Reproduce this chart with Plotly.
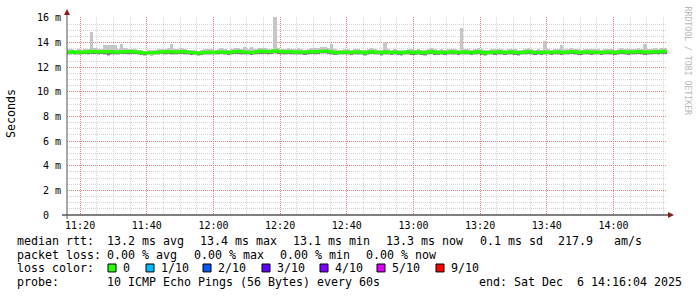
import plotly.graph_objects as go
import pandas as pd

# ---------------- data (ms), one value per minute ----------------
median_ms = [
    13.22,13.25,13.20,13.24,13.22,13.26,13.23,13.30,13.27,13.24,13.26,13.28,13.25,13.27,13.24,13.22,13.26,13.28,13.25,13.27,
    13.26,13.24,13.18,13.15,13.17,13.16,13.19,13.22,13.25,13.24,13.27,13.25,13.23,13.26,13.28,13.25,13.22,13.20,13.17,13.15,
    13.18,13.22,13.24,13.21,13.19,13.23,13.26,13.22,13.20,13.24,13.27,13.30,13.26,13.24,13.22,13.19,13.23,13.27,13.32,13.28,
    13.25,13.27,13.34,13.30,13.26,13.24,13.28,13.25,13.22,13.26,13.23,13.21,13.25,13.28,13.24,13.27,13.30,13.32,13.28,13.25,
    13.20,13.18,13.21,13.24,13.22,13.19,13.23,13.25,13.21,13.18,13.24,13.27,13.22,13.20,13.17,13.25,13.22,13.19,13.23,13.20,
    13.16,13.21,13.26,13.22,13.18,13.25,13.20,13.17,13.23,13.27,13.21,13.18,13.24,13.20,13.22,13.26,13.23,13.19,13.21,13.25,
    13.22,13.18,13.24,13.27,13.21,13.16,13.20,13.24,13.22,13.26,13.23,13.19,13.22,13.25,13.21,13.17,13.20,13.24,13.27,13.23,
    13.20,13.22,13.18,13.24,13.21,13.19,13.23,13.26,13.22,13.20,13.24,13.27,13.25,13.22,13.19,13.23,13.26,13.21,13.24,13.22,
    13.19,13.22,13.25,13.23,13.20,13.24,13.27,13.25,13.22,13.26,13.24,13.28,13.25,13.22,13.26,13.24,13.27,13.23,13.28,13.30,
]
max_ms = [
    13.45,13.50,13.42,13.48,13.44,13.52,13.47,14.85,13.55,13.48,13.52,13.82,13.84,13.82,13.80,13.50,13.85,13.58,13.48,13.46,
    13.50,13.44,13.40,13.36,13.40,13.38,13.42,13.46,13.52,13.48,13.54,13.85,13.46,13.50,13.56,13.48,13.44,13.40,13.38,13.36,
    13.40,13.48,13.52,13.46,13.42,13.48,13.55,13.46,13.44,13.50,13.56,13.58,13.52,13.62,13.46,13.62,13.48,13.55,13.58,13.56,
    13.48,13.52,16.20,13.60,13.52,13.48,13.56,13.50,13.46,13.54,13.48,13.44,13.52,13.56,13.60,13.54,13.62,13.66,13.60,13.85,
    13.46,13.40,13.44,13.48,13.46,13.42,13.48,13.52,13.44,13.40,13.48,13.54,13.46,13.44,13.40,14.08,13.48,13.42,13.48,13.44,
    13.40,13.44,13.52,13.46,13.42,13.52,13.44,13.40,13.48,13.55,13.46,13.42,13.50,13.44,13.46,13.52,13.48,13.42,15.20,13.52,
    13.46,13.42,13.48,13.55,13.46,13.40,13.44,13.50,13.46,13.52,13.48,13.44,13.46,13.52,13.46,13.40,13.44,13.50,13.55,13.48,
    13.44,13.46,13.42,14.15,13.46,13.44,13.48,13.52,13.80,13.46,13.50,13.55,13.52,13.46,13.44,13.48,13.52,13.46,13.50,13.46,
    13.42,13.46,13.52,13.48,13.44,13.50,13.55,13.52,13.46,13.52,13.50,13.56,13.52,13.85,13.52,13.50,13.55,13.48,13.55,13.56,
]
min_ms = [
    13.02,13.04,12.98,13.02,13.00,13.04,13.02,13.06,13.04,13.00,13.04,12.96,12.94,12.98,13.02,12.99,13.04,13.06,13.02,13.04,
    13.04,13.02,12.96,12.94,12.96,12.95,12.98,13.00,13.04,13.02,13.04,13.02,13.00,13.04,13.06,13.02,12.99,12.98,12.96,12.94,
    12.96,13.00,13.02,12.99,12.96,13.02,13.04,13.00,12.98,13.02,13.04,13.06,13.02,13.00,12.99,12.96,13.00,13.04,13.08,13.04,
    13.02,13.04,13.08,13.06,13.02,13.00,13.04,13.02,12.98,13.02,13.00,12.98,13.02,13.04,13.00,13.04,13.06,13.08,13.04,13.02,
    12.98,12.96,12.98,13.00,12.99,12.96,13.00,13.02,12.98,12.94,13.00,13.04,12.98,12.96,12.94,13.02,12.99,12.96,13.00,12.98,
    12.94,12.98,13.02,12.99,12.96,13.02,12.98,12.94,13.00,13.04,12.98,12.96,13.00,12.98,12.99,13.02,13.00,12.96,12.98,13.02,
    12.99,12.96,13.00,13.04,12.98,12.94,12.98,13.00,12.99,13.02,13.00,12.96,12.99,13.02,12.98,12.94,12.98,13.00,13.04,13.00,
    12.98,12.99,12.96,13.00,12.98,12.96,13.00,13.02,12.99,12.98,13.00,13.04,13.02,12.99,12.96,13.00,13.02,12.98,13.00,12.99,
    12.96,12.99,13.02,13.00,12.98,13.00,13.04,13.02,12.99,13.02,13.00,13.04,13.02,12.99,13.02,13.00,13.04,13.00,13.04,13.06,
]
dark_lo_ms = [
    13.15,13.06,13.12,13.15,13.05,13.15,13.10,13.08,13.15,13.06,13.14,13.04,13.02,13.05,13.12,13.15,13.08,13.15,13.10,13.15,
    13.12,13.15,13.04,13.02,13.10,13.08,13.15,13.12,13.06,13.15,13.10,13.15,13.06,13.15,13.12,13.08,13.15,13.06,13.10,13.03,
    13.06,13.15,13.10,13.08,13.15,13.06,13.15,13.12,13.05,13.15,13.10,13.14,13.08,13.06,13.15,13.04,13.12,13.15,13.10,13.15,
    13.10,13.15,13.12,13.08,13.15,13.06,13.15,13.10,13.04,13.15,13.08,13.06,13.15,13.10,13.05,13.15,13.12,13.15,13.08,13.06,
    13.05,13.08,13.15,13.06,13.12,13.04,13.15,13.08,13.10,13.02,13.15,13.10,13.05,13.12,13.03,13.15,13.08,13.06,13.15,13.05,
    13.03,13.12,13.15,13.06,13.04,13.15,13.06,13.02,13.12,13.15,13.06,13.05,13.15,13.06,13.10,13.15,13.08,13.04,13.12,13.15,
    13.08,13.04,13.15,13.12,13.06,13.02,13.10,13.15,13.06,13.15,13.10,13.04,13.12,13.15,13.06,13.02,13.08,13.15,13.12,13.06,
    13.06,13.10,13.04,13.15,13.08,13.05,13.12,13.15,13.06,13.08,13.15,13.12,13.15,13.06,13.04,13.12,13.15,13.06,13.10,13.08,
    13.04,13.10,13.15,13.08,13.06,13.15,13.12,13.15,13.06,13.15,13.10,13.15,13.12,13.06,13.15,13.08,13.15,13.06,13.12,13.15,
]
start_time = "2025-12-06 11:16:00"
range_start = "2025-12-06 11:16:04"
range_end = "2025-12-06 14:16:04"

y_tickvals = [0, 2, 4, 6, 8, 10, 12, 14, 16]
y_ticktext = ["0\u00a0\u00a0", "2 m", "4 m", "6 m", "8 m", "10 m", "12 m", "14 m", "16 m"]

legend_rows = [
    [("median rtt:", 16), ("13.2 ms avg", 106), ("13.4 ms max", 199), ("13.1 ms min", 292),
     ("13.3 ms now", 385), ("0.1 ms sd", 479), ("217.9", 557), ("am/s", 613)],
    [("packet loss:", 16), ("0.00 % avg", 106), ("0.00 % max", 192.5), ("0.00 % min", 278.5),
     ("0.00 % now", 364.5)],
    [("loss color:", 16)],
    [("probe:", 16), ("10 ICMP Echo Pings (56 Bytes) every 60s", 106),
     ("end: Sat Dec  6 14:16:04 2025", 477.5)],
]
loss_labels = ["0", "1/10", "2/10", "3/10", "4/10", "5/10", "9/10"]
loss_colors = ["#26ff00", "#00b8ff", "#0059ff", "#5e00ff", "#7e00ff", "#dd00ff", "#ff0000"]
loss_box_x = [108, 146, 203, 262, 320, 377, 436]

# ---------------- geometry ----------------
W, H = 697, 297
L, R, T, B = 67, 667, 15, 215
MONO = "DejaVu Sans Mono"
FS = 11.63


def px(x):
    return (x - L) / (R - L)


def py(y):
    return (B - y) / (B - T)


times = pd.date_range(start_time, periods=len(median_ms), freq="60s")
centers = times + pd.Timedelta(seconds=30)

fig = go.Figure()
fig.add_trace(go.Bar(
    x=centers, y=[mx - mn for mx, mn in zip(max_ms, min_ms)], base=min_ms,
    width=60000, marker=dict(color="#c6c6c6", line=dict(width=0)),
    hoverinfo="skip", showlegend=False))
fig.add_trace(go.Bar(
    x=centers, y=[md - dl for md, dl in zip(median_ms, dark_lo_ms)], base=dark_lo_ms,
    width=60000, marker=dict(color="#7c7c7c", line=dict(width=0)),
    hoverinfo="skip", showlegend=False))
line_x = list(times) + [times[-1] + pd.Timedelta(seconds=60)]
line_y = median_ms + [median_ms[-1]]
fig.add_trace(go.Scatter(
    x=line_x, y=line_y, mode="lines", line=dict(color=loss_colors[0], width=3, shape="hv"),
    hoverinfo="skip", showlegend=False))

major = "#e88080"
minor = "#d4d4d4"
fig.update_layout(
    width=W, height=H, margin=dict(l=L, r=W - R, t=T, b=H - B),
    paper_bgcolor="white", plot_bgcolor="white",
    bargap=0, barmode="overlay", showlegend=False,
    font=dict(family=MONO, color="black"),
    xaxis=dict(
        type="date", range=[range_start, range_end],
        tick0="2025-12-06 11:20:00", dtick=20 * 60 * 1000, tickformat="%H:%M",
        showgrid=True, gridcolor=major, griddash="1px,1px", gridwidth=1,
        minor=dict(dtick=5 * 60 * 1000, showgrid=True, gridcolor=minor, griddash="1px,1px"),
        ticks="", showline=False, zeroline=False, ticklabelstandoff=3,
        tickfont=dict(family=MONO, size=10, color="black"),
    ),
    yaxis=dict(
        range=[0, (B - T) / ((B - 16) / 16)], tickvals=y_tickvals, ticktext=y_ticktext,
        showgrid=True, gridcolor=major, griddash="1px,1px", gridwidth=1,
        minor=dict(dtick=0.5, showgrid=True, gridcolor=minor, griddash="1px,1px"),
        ticks="", showline=False, zeroline=False, ticklabelstandoff=5,
        tickfont=dict(family=MONO, size=10, color="black"),
    ),
)

shapes = []
# axes
shapes.append(dict(type="line", xref="paper", yref="paper", x0=px(62), x1=px(669), y0=0, y1=0,
                   line=dict(color="black", width=1)))
shapes.append(dict(type="line", xref="paper", yref="paper", x0=0, x1=0, y0=py(219), y1=py(12),
                   line=dict(color="#555555", width=1)))
# arrows
shapes.append(dict(type="path", xref="paper", yref="paper",
                   path=f"M {px(668)} {py(212)} L {px(674)} {py(215)} L {px(668)} {py(218)} Z",
                   fillcolor="#8b1a1a", line=dict(width=0)))
shapes.append(dict(type="path", xref="paper", yref="paper",
                   path=f"M {px(64)} {py(13)} L {px(67)} {py(7)} L {px(70)} {py(13)} Z",
                   fillcolor="#8b1a1a", line=dict(width=0)))
# loss colour boxes
for bx, col in zip(loss_box_x, loss_colors):
    shapes.append(dict(type="rect", xref="paper", yref="paper",
                       x0=px(bx), x1=px(bx + 8), y0=py(272.5), y1=py(264.5),
                       fillcolor=col, line=dict(color="black", width=1)))
fig.update_layout(shapes=shapes)

ann = []
row_y = [241, 255, 269, 283]
for ry, row in zip(row_y, legend_rows):
    for txt, x in row:
        ann.append(dict(text=txt, x=px(x), y=py(ry), xref="paper", yref="paper",
                        xanchor="left", yanchor="middle", showarrow=False, borderpad=0,
                        font=dict(family=MONO, size=FS, color="black")))
for lbl, bx in zip(loss_labels, loss_box_x):
    ann.append(dict(text=lbl, x=px(bx + 14), y=py(269), xref="paper", yref="paper",
                    xanchor="left", yanchor="middle", showarrow=False, borderpad=0,
                    font=dict(family=MONO, size=FS, color="black")))
ann.append(dict(text="Seconds", x=px(11), y=py(113), xref="paper", yref="paper",
                xanchor="center", yanchor="middle", textangle=-90, showarrow=False,
                font=dict(family=MONO, size=FS, color="black")))
ann.append(dict(text="RRDTOOL / TOBI OETIKER", x=px(688), y=py(59), xref="paper", yref="paper",
                xanchor="center", yanchor="middle", textangle=90, showarrow=False,
                font=dict(family=MONO, size=8.2, color="#b8b8b8")))
fig.update_layout(annotations=ann)

fig.write_html("out.html")
